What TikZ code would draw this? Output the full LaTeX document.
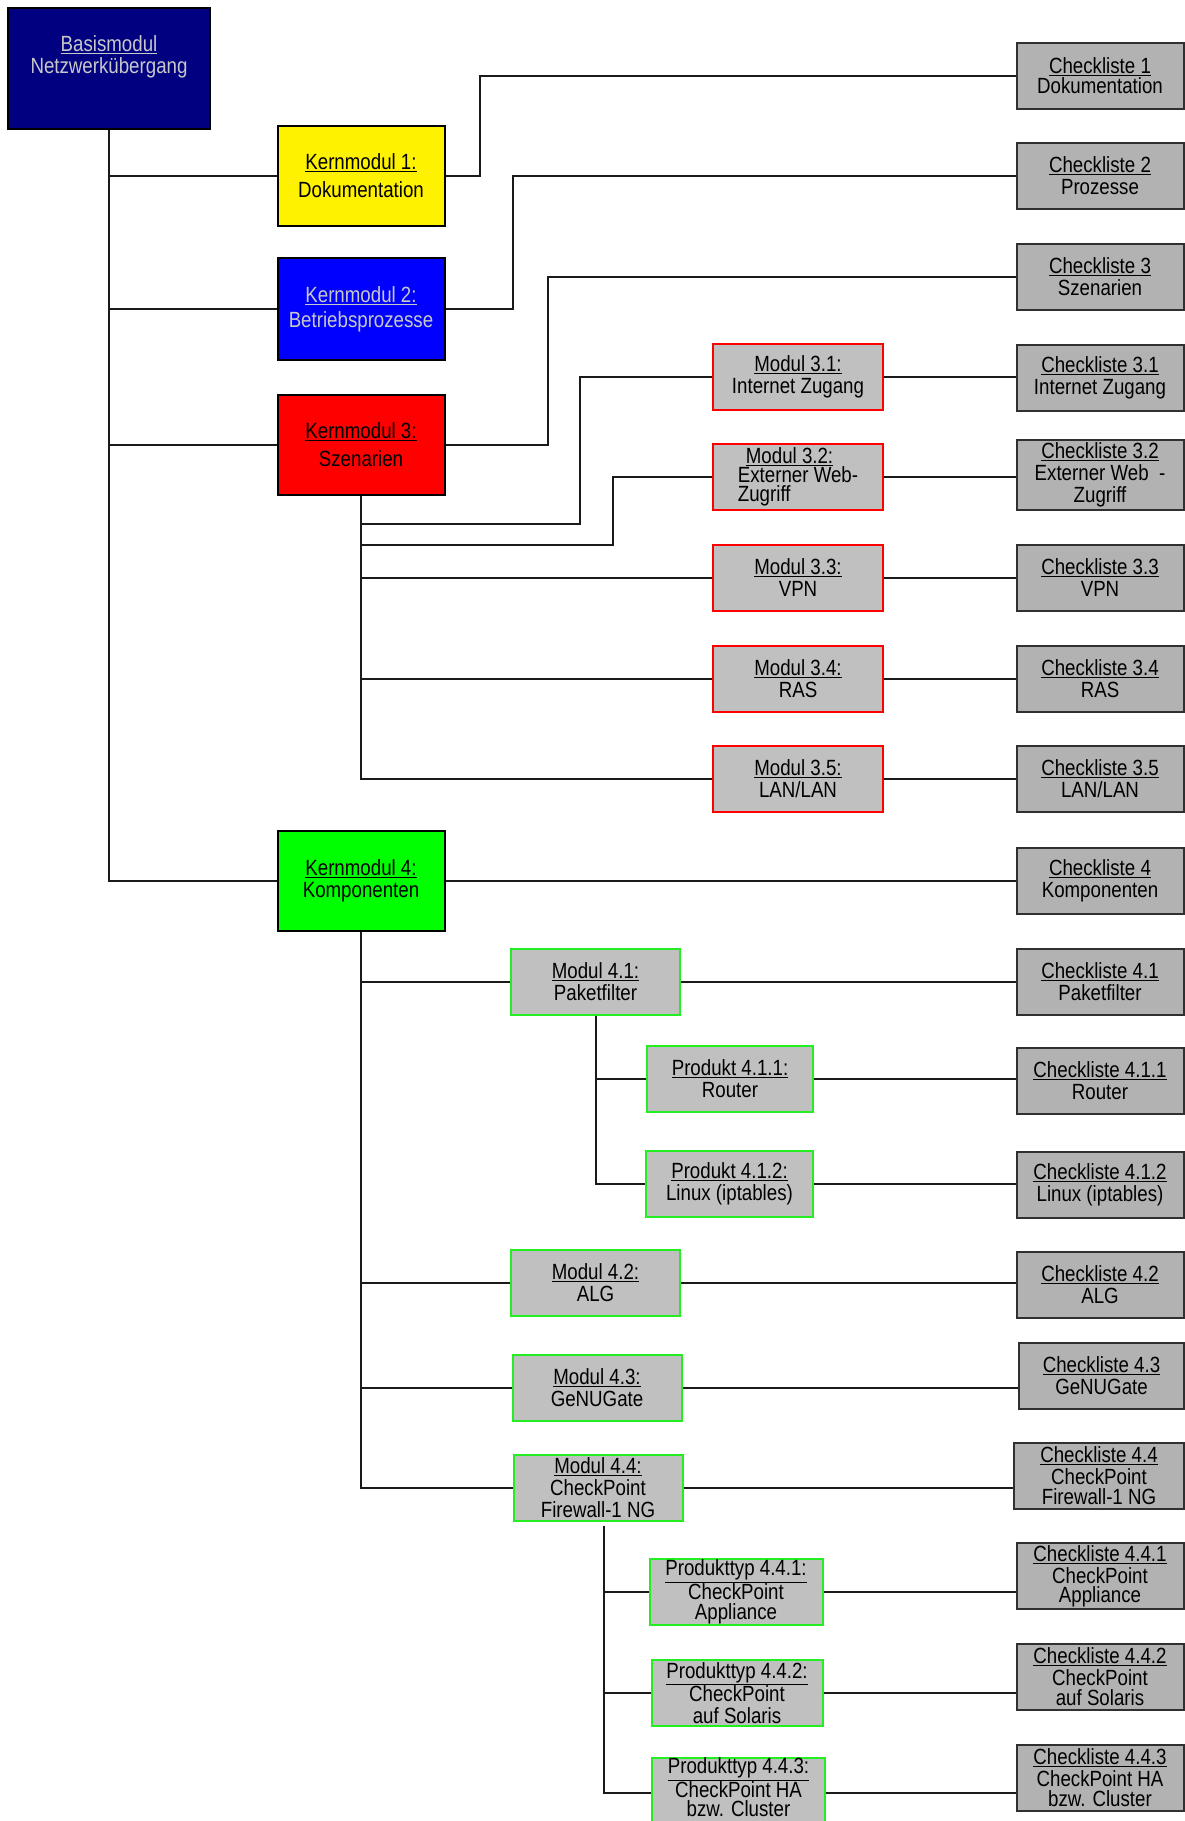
\documentclass[tikz,border=0pt]{standalone}
\usepackage{fontspec}
\setmainfont{Liberation Sans}[FakeStretch=0.85]
\usepackage{tikz}
\usetikzlibrary{calc}
\definecolor{navyfill}{HTML}{000080}
\definecolor{lightgraytext}{HTML}{C8C8C8}
\definecolor{modfill}{HTML}{C0C0C0}
\definecolor{chkfill}{HTML}{B2B2B2}
\definecolor{chkdraw}{HTML}{303030}
\definecolor{modgreen}{HTML}{22EE22}
\definecolor{linecol}{HTML}{1A1A1A}

\begin{document}
\begin{tikzpicture}[x=1pt, y=-1pt,
	box/.style={rectangle, inner sep=0pt, align=center, line width=2pt,
		font=\fontsize{22}{22}\selectfont, minimum width=167pt, minimum height=66pt},
	kbox/.style={box, draw=black, minimum height=100pt},
	modred/.style={box, draw=red, fill=modfill, minimum width=170pt},
	modgrn/.style={box, draw=modgreen, fill=modfill, minimum width=169pt},
	chkbox/.style={box, draw=chkdraw, fill=chkfill},
	conn/.style={draw=linecol, line width=2pt}]
	%%%%% START %%%%%
	\useasboundingbox (0, 0) rectangle (1185, 1821);
	
	\node[kbox, fill=navyfill, text=lightgraytext, minimum width=202pt, minimum height=121pt] (basis) at (109, 68.5) {\underline{Basismodul}\\Netzwerkübergang\\[6pt] \mbox{}};
	
	\node[kbox, fill=yellow] (k1) at (361, 176) {\underline{Kernmodul 1:}\\[6pt]Dokumentation};
	\node[kbox, fill=blue, text=lightgraytext, minimum height=102pt] (k2) at (361, 309) {\underline{Kernmodul 2:}\\[3pt]Betriebsprozesse};
	\node[kbox, fill=red] (k3) at (361, 444.5) {\underline{Kernmodul 3:}\\[6pt]Szenarien};
	\node[kbox, fill=green] (k4) at (361, 881) {\underline{Kernmodul 4:}\\Komponenten};
	
	% Szenarien
	\node[modred] (m31) at (798, 377) {\underline{Modul 3.1:}\\Internet Zugang};
	\node[modred, align=left] (m32) at (798, 477) {\hspace{8pt}\underline{Modul 3.2:}\\[-3pt]Externer Web-\\[-3pt]Zugriff};
	\node[modred] (m33) at (798, 577.5) {\underline{Modul 3.3:}\\VPN};
	\node[modred] (m34) at (798, 678.5) {\underline{Modul 3.4:}\\RAS};
	\node[modred] (m35) at (798, 778.5) {\underline{Modul 3.5:}\\LAN/LAN};
	
	% Komponenten
	\node[modgrn] (m41) at (595.5, 981.5) {\underline{Modul 4.1:}\\Paketfilter};
	\node[modgrn, minimum width=166pt] (p411) at (730, 1079) {\underline{Produkt 4.1.1:}\\Router};
	\node[modgrn, minimum width=167pt] (p412) at (729.5, 1183.5) {\underline{Produkt 4.1.2:}\\Linux (iptables)};
	\node[modgrn] (m42) at (595.5, 1283) {\underline{Modul 4.2:}\\ALG};
	\node[modgrn] (m43) at (597, 1388) {\underline{Modul 4.3:}\\GeNUGate};
	\node[modgrn] (m44) at (598, 1487.5) {\underline{Modul 4.4:}\\CheckPoint\\Firewall-1 NG};
	\node[modgrn, minimum width=173pt] (p441) at (736, 1592) {\underline{Produkttyp 4.4.1:}\\CheckPoint\\[-2pt]Appliance};
	\node[modgrn, minimum width=171pt] (p442) at (737, 1693) {\underline{Produkttyp 4.4.2:}\\CheckPoint\\auf Solaris};
	\node[modgrn, minimum width=173pt] (p443) at (738.5, 1793) {\underline{Produkttyp 4.4.3:}\\CheckPoint HA\\[-3pt]bzw. Cluster\\[-10pt]\mbox{}};
	
	% Checklisten
	\node[chkbox] (c1) at (1100, 75.5) {\underline{Checkliste 1}\\[-2pt]Dokumentation};
	\node[chkbox] (c2) at (1100, 175.5) {\underline{Checkliste 2}\\Prozesse};
	\node[chkbox] (c3) at (1100, 276.5) {\underline{Checkliste 3}\\Szenarien};
	\node[chkbox] (c31) at (1100, 377.5) {\underline{Checkliste 3.1}\\Internet Zugang};
	\node[chkbox, minimum height=70pt] (c32) at (1100, 474.5) {\underline{Checkliste 3.2}\\Externer Web~~-\\Zugriff};
	\node[chkbox] (c33) at (1100, 578) {\underline{Checkliste 3.3}\\VPN};
	\node[chkbox] (c34) at (1100, 678.5) {\underline{Checkliste 3.4}\\RAS};
	\node[chkbox] (c35) at (1100, 778.5) {\underline{Checkliste 3.5}\\LAN/LAN};
	\node[chkbox] (c4) at (1100, 881) {\underline{Checkliste 4}\\Komponenten};
	\node[chkbox] (c41) at (1100, 981.5) {\underline{Checkliste 4.1}\\Paketfilter};
	\node[chkbox] (c411) at (1100, 1080.5) {\underline{Checkliste 4.1.1}\\Router};
	\node[chkbox] (c412) at (1100, 1184.5) {\underline{Checkliste 4.1.2}\\Linux (iptables)};
	\node[chkbox] (c42) at (1100, 1284.5) {\underline{Checkliste 4.2}\\ALG};
	\node[chkbox, minimum width=165pt] (c43) at (1101.5, 1376) {\underline{Checkliste 4.3}\\GeNUGate};
	\node[chkbox, minimum width=170pt] (c44) at (1099, 1475.5) {\underline{Checkliste 4.4}\\CheckPoint\\[-2pt]Firewall-1 NG};
	\node[chkbox] (c441) at (1100, 1576) {\underline{Checkliste 4.4.1}\\CheckPoint\\[-3pt]Appliance};
	\node[chkbox] (c442) at (1100, 1677) {\underline{Checkliste 4.4.2}\\CheckPoint\\[-2pt]auf Solaris};
	\node[chkbox] (c443) at (1100, 1777.5) {\underline{Checkliste 4.4.3}\\CheckPoint HA\\[-2pt]bzw. Cluster};
	
	% Verbindungen Basismodul
	\draw[conn] (basis.south) |- (k1.west);
	\draw[conn] (basis.south) |- (k2.west);
	\draw[conn] (basis.south) |- (k3.west);
	\draw[conn] (basis.south) |- (k4.west);
	
	\draw[conn] (k1.east) -- ++(34, 0) |- (c1.west);
	\draw[conn] (k2.east) -- ++(67, 0) |- (c2.west);
	\draw[conn] (k3.east) -- ++(102, 0) |- (c3.west);
	\draw[conn] (k4.east) -- (k4.east -| c4.west);
	
	% Kernmodul 3
	\draw[conn] (k3.south) |- (580, 524) |- (m31.west);
	\draw[conn] (k3.south) |- (613, 545) |- (m32.west);
	\draw[conn] (k3.south) |- (m33.west);
	\draw[conn] (k3.south) |- (m34.west);
	\draw[conn] (k3.south) |- (m35.west);
	\draw[conn] (m31.east) -- (m31.east -| c31.west);
	\draw[conn] (m32.east) -- (m32.east -| c32.west);
	\draw[conn] (m33.east) -- (m33.east -| c33.west);
	\draw[conn] (m34.east) -- (m34.east -| c34.west);
	\draw[conn] (m35.east) -- (m35.east -| c35.west);
	
	% Kernmodul 4
	\draw[conn] (k4.south) |- (m41.west);
	\draw[conn] (k4.south) |- (m42.west);
	\draw[conn] (k4.south) |- (m43.west);
	\draw[conn] (k4.south) |- (m44.west);
	\draw[conn] (m41.south) |- (p411.west);
	\draw[conn] (m41.south) |- (p412.west);
	\draw[conn] ([xshift=6pt, yshift=-4pt]m44.south) |- (p441.west);
	\draw[conn] ([xshift=6pt, yshift=-4pt]m44.south) |- (p442.west);
	\draw[conn] ([xshift=6pt, yshift=-4pt]m44.south) |- (p443.west);
	\draw[conn] (m41.east) -- (m41.east -| c41.west);
	\draw[conn] (p411.east) -- (p411.east -| c411.west);
	\draw[conn] (p412.east) -- (p412.east -| c412.west);
	\draw[conn] (m42.east) -- (m42.east -| c42.west);
	\draw[conn] (m43.east) -- (m43.east -| c43.west);
	\draw[conn] (m44.east) -- (m44.east -| c44.west);
	\draw[conn] (p441.east) -- (p441.east -| c441.west);
	\draw[conn] (p442.east) -- (p442.east -| c442.west);
	\draw[conn] (p443.east) -- (p443.east -| c443.west);
	%%%%% END %%%%%
\end{tikzpicture}
\end{document}
